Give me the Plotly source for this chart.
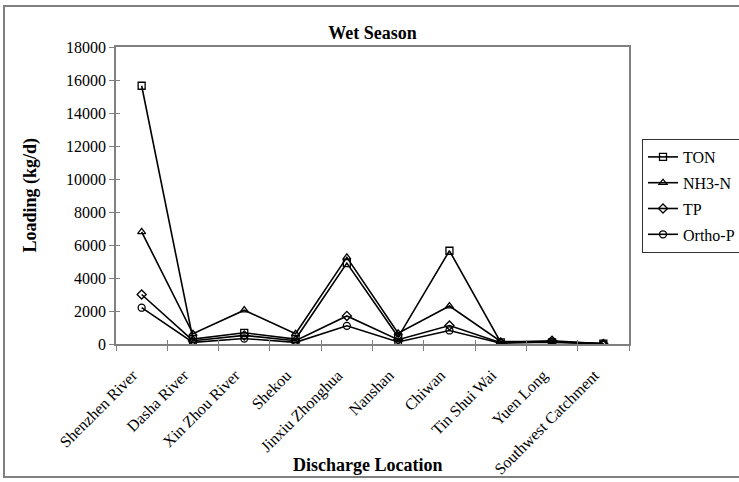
import plotly.graph_objects as go

locations = ["Shenzhen River", "Dasha River", "Xin Zhou River", "Shekou", "Jinxiu Zhonghua",
             "Nanshan", "Chiwan", "Tin Shui Wai", "Yuen Long", "Southwest Catchment"]
ton = [15650, 300, 680, 300, 4900, 420, 5650, 100, 100, 20]
nh3n = [6800, 620, 2050, 620, 5250, 650, 2300, 150, 150, 10]
tp = [3000, 200, 520, 200, 1700, 260, 1120, 80, 200, 5]
orthop = [2200, 100, 330, 100, 1100, 120, 820, 50, 140, 5]

series_names = ["TON", "NH3-N", "TP", "Ortho-P"]
series_vals = [ton, nh3n, tp, orthop]
symbols = ["square-open", "triangle-up-open", "diamond-open", "circle-open"]

FONT = "Liberation Serif"
fig = go.Figure()
for i, (name, vals, sym) in enumerate(zip(series_names, series_vals, symbols)):
    fig.add_trace(go.Scatter(
        x=locations, y=vals, name=name, mode="lines+markers",
        legendgroup=f"g{i}",
        line=dict(color="black", width=1.6),
        marker=dict(symbol=sym, size=7, color="black", line=dict(color="black", width=1.3)),
    ))

# invisible trace for overlay axes (cross ticks)
fig.add_trace(go.Scatter(x=[0], y=[0], xaxis="x2", yaxis="y2", mode="markers",
                         marker=dict(opacity=0), showlegend=False, hoverinfo="skip"))

L, R, T, B = 116, 110, 47, 138
W, H = 739, 482
pw = W - L - R
ph = H - T - B

fig.update_layout(
    width=W, height=H,
    margin=dict(l=L, r=R, t=T, b=B, autoexpand=False),
    paper_bgcolor="white", plot_bgcolor="white",
    font=dict(family=FONT, size=16, color="black"),
    title=dict(text="<b>Wet Season</b>", x=(L + pw / 2) / W, xanchor="center",
               y=1 - 33 / H, yanchor="middle", yref="container",
               font=dict(family=FONT, size=18, color="black")),
    xaxis=dict(type="category", tickangle=-45, showgrid=False, ticks="outside",
               tickson="boundaries", ticklen=5, tickcolor="#808080", tickwidth=1.3,
               showline=True, linecolor="#808080", linewidth=1.5, mirror=True,
               tickfont=dict(family=FONT, size=16, color="black"),
               ticklabelstandoff=14, ticklabelshift=-9,
               range=[-0.5, 9.5], automargin=False),
    yaxis=dict(range=[0, 18000], dtick=2000, tickformat="d", showgrid=False, ticks="outside",
               ticklen=5, tickcolor="#808080", tickwidth=1.3,
               showline=True, linecolor="#808080", linewidth=1.5, mirror=True,
               tickfont=dict(family=FONT, size=16, color="black"),
               zeroline=False, automargin=False),
    xaxis2=dict(overlaying="x", anchor="y2", range=[-0.5, 9.5], tickvals=[i - 0.5 for i in range(11)],
                showticklabels=False, ticks="inside", ticklen=4, tickcolor="#808080", tickwidth=1.3,
                showgrid=False, zeroline=False, showline=False),
    yaxis2=dict(overlaying="y", anchor="x2", side="left", range=[0, 18000], dtick=2000,
                showticklabels=False, ticks="inside", ticklen=4, tickcolor="#808080", tickwidth=1.3,
                showgrid=False, zeroline=False, showline=False),
    legend=dict(x=(642 - L) / pw, y=(H - B - 139) / ph, xanchor="left", yanchor="top",
                bordercolor="#333333", borderwidth=1, bgcolor="white",
                font=dict(family=FONT, size=16, color="black"),
                tracegroupgap=2, itemwidth=30),
    showlegend=True,
)

fig.add_annotation(text="<b>Loading (kg/d)</b>", x=(30 - L) / pw, y=0.5, xref="paper", yref="paper",
                   textangle=-90, showarrow=False, xanchor="center", yanchor="middle",
                   font=dict(family=FONT, size=18, color="black"))
fig.add_annotation(text="<b>Discharge Location</b>", x=(367 - L) / pw, y=-(465 - (H - B)) / ph,
                   xref="paper", yref="paper", showarrow=False, xanchor="center", yanchor="middle",
                   font=dict(family=FONT, size=18, color="black"))

# outer chart border
fig.add_shape(type="rect", xref="paper", yref="paper",
              x0=(4 - L) / pw, x1=(745 - L) / pw,
              y0=-(477 - (H - B)) / ph, y1=((H - B) - 6) / ph,
              line=dict(color="#808080", width=2), fillcolor="rgba(0,0,0,0)", layer="below")

fig.write_html("out.html", config={"displayModeBar": False},
               post_script="document.body.style.margin='0';document.body.style.overflow='hidden';")
